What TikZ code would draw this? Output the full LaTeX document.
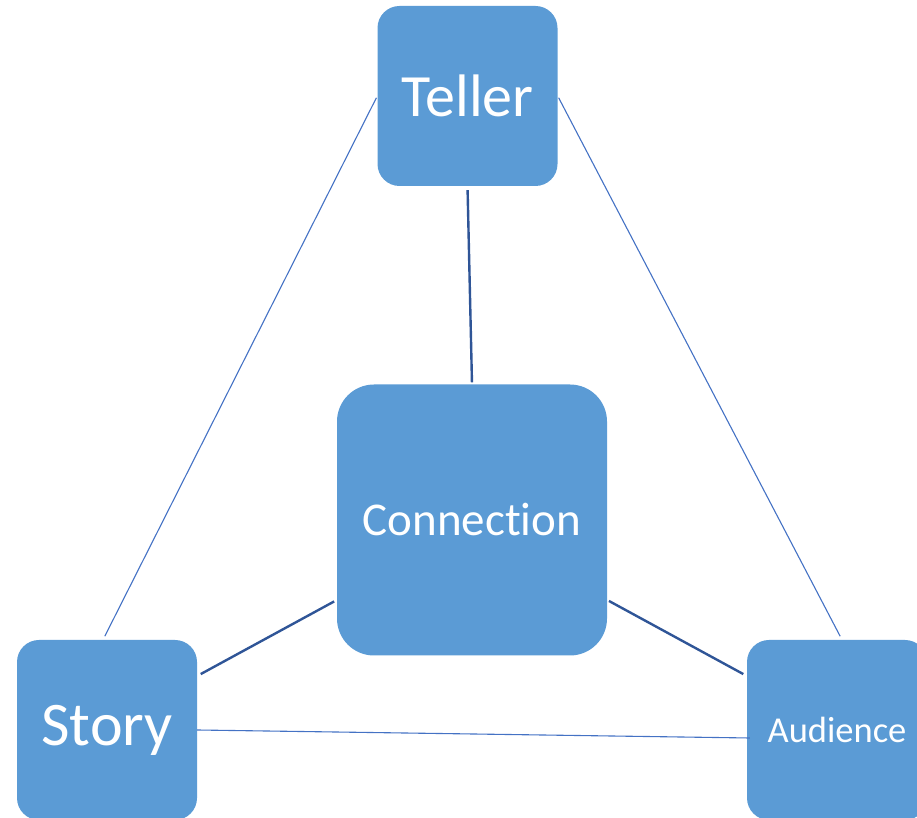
\documentclass[tikz,border=0pt]{standalone}
\usepackage{fontspec}
\setmainfont[Ligatures={NoCommon}]{Carlito}
\definecolor{boxblue}{HTML}{5B9BD5}
\definecolor{darkline}{HTML}{2F5597}
\definecolor{thinline}{HTML}{4472C4}
\begin{document}
\begin{tikzpicture}[x=1pt,y=1pt,
  box/.style={rectangle, fill=boxblue, draw=none, text=white, inner sep=0pt},
  smallbox/.style={box, minimum width=180pt, minimum height=180pt, rounded corners=22pt},
  bigbox/.style={box, minimum width=270pt, minimum height=271pt, rounded corners=37pt},
  heavy/.style={draw=darkline, line width=2.4pt},
  light/.style={draw=thinline, line width=1.1pt}]
\useasboundingbox (0,0) rectangle (917,818);
\clip (0,0) rectangle (917,818);
\node[smallbox, font=\fontsize{60}{60}\selectfont] (teller) at (467.5,722) {Teller};
\node[bigbox, font=\fontsize{47}{47}\selectfont] (conn) at (472,298) {Connection};
\node[smallbox, font=\fontsize{62}{62}\selectfont] (story) at (107,88) {Story};
\node[smallbox, font=\fontsize{36.5}{36.5}\selectfont] (aud) at (837,88) {Audience};
\draw[heavy, shorten <=4pt, shorten >=2pt] (teller.south) -- (conn.north);
\draw[heavy, shorten <=3pt, shorten >=4pt] ([yshift=-80pt]conn.west) -- ([yshift=54pt]story.east);
\draw[heavy, shorten <=2pt, shorten >=4pt] ([yshift=-80pt]conn.east) -- ([yshift=54pt]aud.west);
\draw[light, shorten <=2pt, shorten >=4pt] (teller.west) -- ([xshift=-4pt]story.north);
\draw[light, shorten <=2pt, shorten >=4pt] (teller.east) -- ([xshift=5pt]aud.north);
\draw[light] (story.east) -- ([yshift=-8pt,xshift=3pt]aud.west);
\end{tikzpicture}
\end{document}
